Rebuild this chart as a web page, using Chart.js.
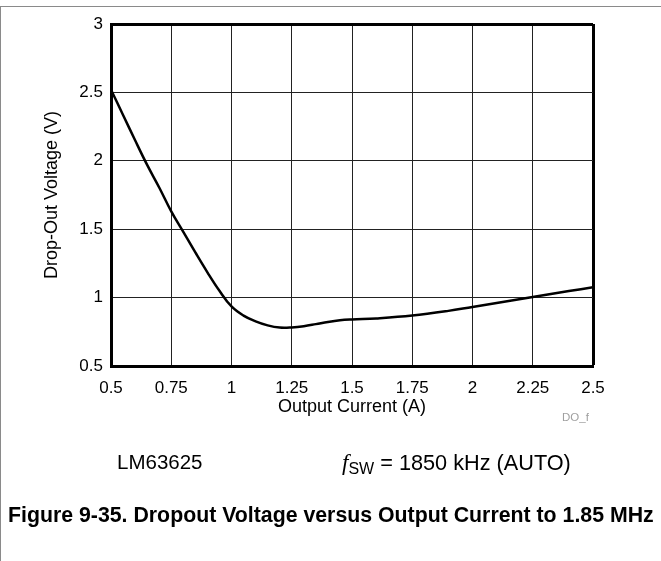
<!DOCTYPE html>
<html><head><meta charset="utf-8">
<script src="https://cdn.jsdelivr.net/npm/chart.js@4/dist/chart.umd.min.js"></script>
<style>
html,body{margin:0;padding:0;background:#fff;}
#wrap{position:relative;width:661px;height:561px;overflow:hidden;font-family:"Liberation Sans",Arial,sans-serif;background:#fff;}
#topline{position:absolute;left:0;top:6px;width:661px;height:0;border-top:1px solid #8a8a8a;}
#leftline{position:absolute;left:0;top:6px;width:0;height:555px;border-left:1px solid #8a8a8a;}
canvas{position:absolute;left:0;top:0;}
.t{position:absolute;white-space:nowrap;color:#000;line-height:1;}
</style></head>
<body>
<div id="wrap">
  <canvas id="c" width="661" height="561"></canvas>
  <div id="topline"></div>
  <div id="leftline"></div>
  <div class="t" id="dof" style="left:562px;top:412px;font-size:11.5px;color:#a0a0a0;">DO_f</div>
  <div class="t" style="left:117px;top:452px;font-size:20.5px;">LM63625</div>
  <div class="t" style="left:342px;top:451px;font-size:21.7px;"><span style="font-family:'Liberation Serif',serif;font-style:italic;font-size:23px;">f</span><span style="font-size:16px;position:relative;top:4px;">SW</span> = 1850 kHz (AUTO)</div>
  <div class="t" style="left:8px;top:505px;font-size:21.3px;font-weight:bold;">Figure 9-35. Dropout Voltage versus Output Current to 1.85 MHz</div>
</div>
<script>
// Data
const currentA = [0.5, 0.55, 0.6, 0.65, 0.7, 0.75, 0.8, 0.85, 0.9, 0.95, 1.0, 1.05, 1.1, 1.15, 1.2, 1.25, 1.3, 1.35, 1.4, 1.45, 1.5, 1.6, 1.75, 1.9, 2.0, 2.1, 2.25, 2.4, 2.5];
const dropoutV = [2.52, 2.335, 2.15, 1.97, 1.805, 1.63, 1.48, 1.33, 1.185, 1.05, 0.935, 0.868, 0.826, 0.797, 0.781, 0.782, 0.791, 0.806, 0.822, 0.834, 0.84, 0.848, 0.869, 0.903, 0.932, 0.96, 1.005, 1.048, 1.075];
const xTickValues = [0.5, 0.75, 1, 1.25, 1.5, 1.75, 2, 2.25, 2.5];
const yTickValues = [0.5, 1, 1.5, 2, 2.5, 3];
const xTitle = 'Output Current (A)';
const yTitle = 'Drop-Out Voltage (V)';

const points = currentA.map((x, i) => ({x: x, y: dropoutV[i]}));
const FONT = '"Liberation Sans", Arial, sans-serif';

new Chart(document.getElementById('c'), {
  type: 'scatter',
  data: { datasets: [{
    data: points,
    showLine: true,
    borderColor: '#000',
    borderWidth: 2.5,
    pointRadius: 0,
    tension: 0.4,
    fill: false
  }]},
  options: {
    responsive: false,
    animation: false,
    devicePixelRatio: 1,
    layout: { padding: { left: 0, top: 24, right: 68, bottom: 140 } },
    plugins: { legend: { display: false }, tooltip: { enabled: false } },
    scales: {
      x: {
        type: 'linear', min: 0.5, max: 2.5,
        afterBuildTicks: s => { s.ticks = xTickValues.map(v => ({value: v})); },
        afterFit: s => { s.height = 55; },
        ticks: { color: '#000', font: { family: FONT, size: 17 }, padding: 12, maxRotation: 0, autoSkip: false,
                 callback: v => String(v) },
        grid: { drawTicks: false, color: ctx => ctx.tick && ctx.tick.value === 2.5 ? '#000' : '#222',
                lineWidth: ctx => ctx.tick && ctx.tick.value === 2.5 ? 3 : 1 },
        border: { display: true, color: '#000', width: 3 },
        title: { display: true, text: xTitle, color: '#000', font: { family: FONT, size: 18 }, padding: { top: 0, bottom: 3 } }
      },
      y: {
        type: 'linear', min: 0.5, max: 3,
        afterBuildTicks: s => { s.ticks = yTickValues.map(v => ({value: v})); },
        afterFit: s => { s.width = 111; },
        ticks: { color: '#000', font: { family: FONT, size: 17 }, padding: 8, autoSkip: false,
                 callback: v => String(v) },
        grid: { drawTicks: false, color: ctx => ctx.tick && ctx.tick.value === 3 ? '#000' : '#222',
                lineWidth: ctx => ctx.tick && ctx.tick.value === 3 ? 3 : 1 },
        border: { display: true, color: '#000', width: 3 },
        title: { display: true, text: yTitle, color: '#000', font: { family: FONT, size: 18 }, padding: { top: 41, bottom: 0 } }
      }
    }
  }
});
</script>
</body></html>
